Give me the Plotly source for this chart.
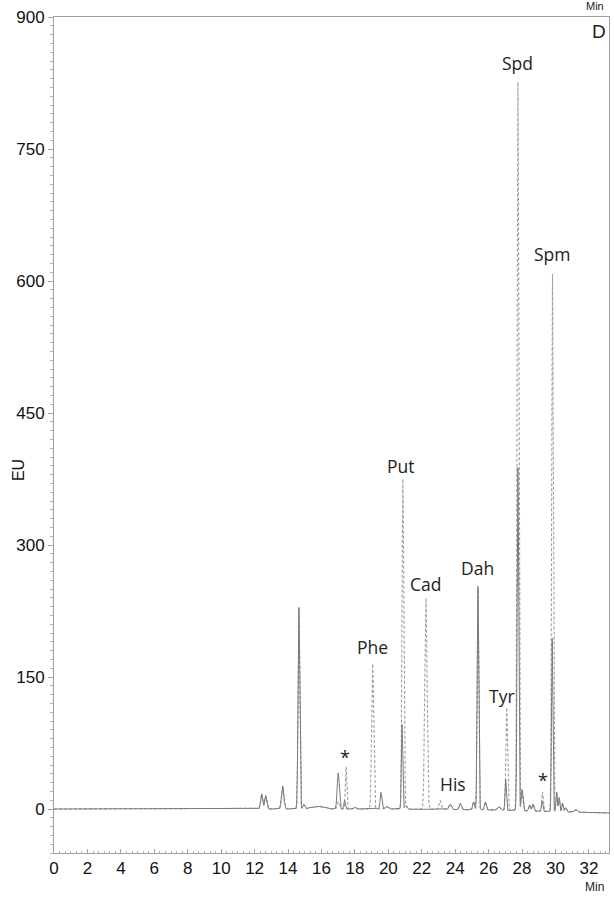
import numpy as np
import plotly.graph_objects as go

# ---- data (retention time [min], height [EU], width sigma [min]) ----
# small peaks common to both runs
minor_rt = [12.42, 12.66, 13.68, 14.95, 15.4, 15.8, 16.2, 18.0, 19.9, 21.05, 23.7, 24.3, 25.1,
            25.8, 26.6, 28.0, 28.45, 28.65, 30.07, 30.22, 30.42, 30.6, 31.2]
minor_h = [17, 15, 26, 5, 2, 3, 2, 2, 3, 4, 6, 7, 9, 9, 4, 24, 7, 8, 22, 16, 10, 5, 3]
minor_w = [0.06, 0.06, 0.07, 0.06, 0.15, 0.15, 0.15, 0.06, 0.08, 0.06, 0.07, 0.06, 0.05,
           0.05, 0.08, 0.05, 0.05, 0.05, 0.04, 0.04, 0.04, 0.05, 0.08]

# sample trace (solid) main peaks
sample_rt = [14.65, 17.0, 17.38, 19.56, 20.82, 25.36, 27.02, 27.75, 29.2, 29.8]
sample_h = [229, 41, 10, 19, 96, 254, 35, 390, 12, 197]
sample_w = [0.05, 0.06, 0.04, 0.05, 0.04, 0.045, 0.04, 0.045, 0.04, 0.04]

# standard trace (dashed) main peaks
std_rt = [14.65, 17.0, 17.47, 19.06, 20.87, 22.25, 23.1, 25.36, 27.08, 27.75, 29.22, 29.82]
std_h = [229, 8, 48, 165, 375, 240, 10, 250, 117, 828, 22, 611]
std_w = [0.05, 0.06, 0.04, 0.06, 0.05, 0.07, 0.07, 0.045, 0.05, 0.05, 0.04, 0.045]

# baseline drift points (min, EU)
drift_t = [0, 12, 20, 26, 30, 33.2]
drift_v = [0, 0, 0, -1, -3, -4.5]

labels = ["Phe", "Put", "Cad", "His", "Dah", "Tyr", "Spd", "Spm", "*", "*"]
label_x = [19.06, 20.75, 22.25, 23.86, 25.36, 26.8, 27.75, 29.84, 17.41, 29.25]
label_y = [184, 390, 256, 28, 274, 128, 848, 631, 59, 33]

x_ticks = list(range(0, 33, 2))
y_ticks = [0, 150, 300, 450, 600, 750, 900]

# ---- build traces ----
t = np.arange(0, 33.2001, 0.005)
base = np.interp(t, drift_t, drift_v)


def peaks(rts, hs, ws):
    y = np.zeros_like(t)
    for r, h, w in zip(rts, hs, ws):
        y += h * np.exp(-0.5 * ((t - r) / w) ** 2)
    return y


minor = peaks(minor_rt, minor_h, minor_w)
sample = base + minor + peaks(sample_rt, sample_h, sample_w)
standard = base + minor + peaks(std_rt, std_h, std_w)

fig = go.Figure()
fig.add_trace(go.Scatter(x=t, y=standard, mode="lines",
                         line=dict(color="#9e9e9e", width=1.1, dash="3px,2px"),
                         hoverinfo="skip"))
fig.add_trace(go.Scatter(x=t, y=sample, mode="lines",
                         line=dict(color="#7a7a7a", width=1.0),
                         hoverinfo="skip"))

for txt, lx, ly in zip(labels, label_x, label_y):
    fig.add_annotation(x=lx, y=ly, text=txt, showarrow=False, xanchor="center", yanchor="middle",
                       font=dict(family="Open Sans", size=17.5 if txt != "*" else 18, color="#222"))

fig.add_annotation(x=1, y=1, xref="paper", yref="paper", text="D", showarrow=False,
                   xanchor="right", yanchor="top", xshift=-1, yshift=-2,
                   font=dict(family="Liberation Sans", size=19, color="#222"))
fig.add_annotation(x=0.974, y=1, xref="paper", yref="paper", text="Min", showarrow=False,
                   xanchor="center", yanchor="middle", yshift=11,
                   font=dict(family="Liberation Sans", size=11, color="#222"))
fig.add_annotation(x=0.974, y=0, xref="paper", yref="paper", text="Min", showarrow=False,
                   xanchor="center", yanchor="middle", yshift=-34,
                   font=dict(family="Liberation Sans", size=12, color="#222"))
fig.add_annotation(x=0, y=0.458, xref="paper", yref="paper", text="EU", showarrow=False,
                   xanchor="center", yanchor="middle", xshift=-36, textangle=-90,
                   font=dict(family="Liberation Sans", size=16, color="#111"))

fig.update_layout(
    width=614, height=898,
    margin=dict(l=54, r=5, t=17, b=45, autoexpand=False),
    paper_bgcolor="white", plot_bgcolor="white",
    showlegend=False,
    font=dict(family="Liberation Sans", size=17, color="#111"),
)
fig.update_xaxes(range=[0, 33.2], tickvals=x_ticks, ticktext=[str(v) for v in x_ticks],
                 automargin=False,
                 showgrid=False, zeroline=False, showline=True, linecolor="#a0a0a0", linewidth=1,
                 mirror=True, ticks="inside", ticklen=4, tickcolor="#a0a0a0",
                 minor=dict(dtick=1 / 3, tick0=0, ticks="inside", ticklen=2, tickcolor="#b0b0b0"),
                 tickfont=dict(family="Liberation Sans", size=17, color="#111"))
fig.update_yaxes(range=[-50, 900], tickvals=y_ticks, ticktext=[str(v) for v in y_ticks],
                 automargin=False,
                 showgrid=False, zeroline=False, showline=True, linecolor="#a0a0a0", linewidth=1,
                 mirror=True, ticks="outside", ticklen=5, tickcolor="#a0a0a0",
                 minor=dict(dtick=10, tick0=0, ticks="outside", ticklen=3, tickcolor="#b0b0b0"),
                 tickfont=dict(family="Liberation Sans", size=17, color="#111"))

fig.write_html("out.html", config={"displayModeBar": False},
               post_script="document.body.style.margin='0';")
